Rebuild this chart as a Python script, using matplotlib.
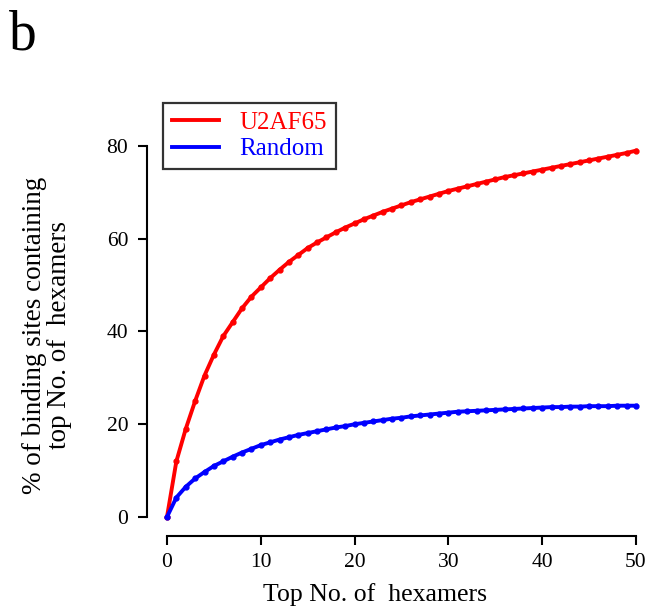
import numpy as np
import matplotlib.pyplot as plt
from matplotlib.lines import Line2D

plt.rcParams['font.family'] = ['Liberation Serif', 'DejaVu Serif']

top_n = list(range(0, 51))
u2af65 = [0, 12, 19, 25, 30.5, 35, 39, 42, 45, 47.5, 49.5, 51.5, 53.3, 55, 56.5, 58,
          59.2, 60.3, 61.4, 62.4, 63.3, 64.2, 65, 65.8, 66.5, 67.2, 67.9, 68.5, 69.1,
          69.7, 70.3, 70.8, 71.3, 71.8, 72.3, 72.8, 73.3, 73.7, 74.1, 74.5, 74.9, 75.3,
          75.7, 76.1, 76.5, 76.9, 77.3, 77.7, 78.1, 78.5, 79.0]
random_ = [0, 4.2, 6.5, 8.3, 9.7, 11, 12, 13, 13.9, 14.7, 15.5, 16.1, 16.7, 17.2, 17.7,
           18.1, 18.5, 18.9, 19.3, 19.6, 20.0, 20.3, 20.6, 20.9, 21.2, 21.4, 21.7, 21.9,
           22.1, 22.3, 22.5, 22.7, 22.8, 22.9, 23.0, 23.1, 23.2, 23.3, 23.4, 23.5, 23.6,
           23.7, 23.7, 23.8, 23.8, 23.9, 23.9, 23.9, 24.0, 24.0, 24.0]
series_names = ['U2AF65', 'Random']
colors = ['#ff0000', '#0000ff']

W, H = 647, 611
fig = plt.figure(figsize=(W / 100, H / 100), dpi=100)
ax = fig.add_axes([147 / W, (H - 536) / H, 498 / W, 436 / H])

ax.plot(top_n, u2af65, color=colors[0], lw=2.8, marker='o', ms=3.5)
ax.plot(top_n, random_, color=colors[1], lw=2.8, marker='o', ms=3.5)

ax.set_xlim(-2.13, 50.96)
ax.set_ylim(-4.1, 89.92)
ax.spines['top'].set_visible(False)
ax.spines['right'].set_visible(False)
ax.spines['left'].set_bounds(0, 80)
ax.spines['bottom'].set_bounds(0, 50)
for s in ['left', 'bottom']:
    ax.spines[s].set_linewidth(1.5)
ax.set_xticks([0, 10, 20, 30, 40, 50])
ax.set_yticks([0, 20, 40, 60, 80])
ax.tick_params(length=6.5, width=1.5, labelsize=15.5)
ax.tick_params(axis='x', pad=6)
ax.tick_params(axis='y', pad=7)

fig.text(375 / W, 1 - 595 / H, 'Top No. of  hexamers', fontsize=18.5,
         ha='center', va='center')
fig.text(47 / W, 1 - 335 / H, '% of binding sites containing\ntop No. of  hexamers',
         fontsize=19.5, ha='center', va='center', rotation=90,
         multialignment='center', linespacing=1.05)

handles = [Line2D([], [], color=c, lw=2.8) for c in colors]
leg = ax.legend(handles, series_names, loc='upper left',
                bbox_to_anchor=(163 / W, 1 - 103 / H),
                bbox_transform=fig.transFigure, fontsize=18, frameon=True,
                fancybox=False, edgecolor='black', handlelength=1.9,
                borderpad=0.35, labelspacing=0.15, handletextpad=0.8,
                borderaxespad=0)
leg.get_frame().set_linewidth(1.6)
for t, c in zip(leg.get_texts(), colors):
    t.set_color(c)

fig.text(9 / W, 1 - 50 / H, 'b', fontsize=40)

fig.savefig('out.png', dpi=100)
